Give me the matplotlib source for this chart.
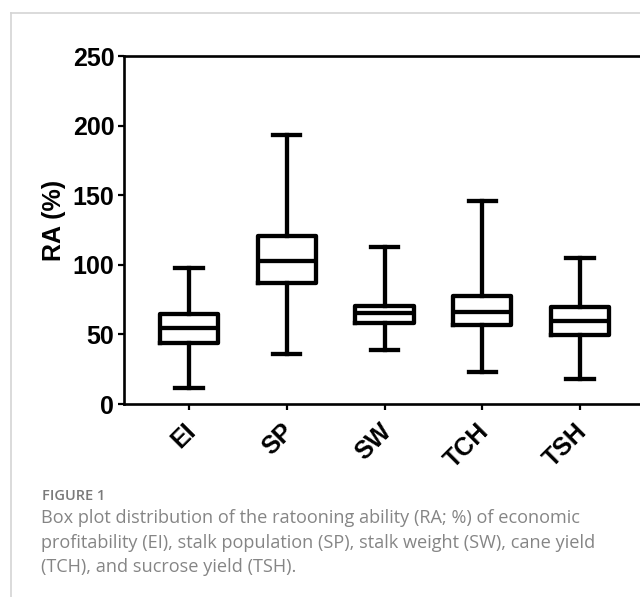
import matplotlib
matplotlib.use("Agg")
import matplotlib.pyplot as plt
from matplotlib.lines import Line2D
from matplotlib.transforms import ScaledTranslation

# values (RA, %)
traits = ["EI", "SP", "SW", "TCH", "TSH"]
ra_min = [11.5, 36, 38.5, 23, 18]
ra_q1 = [44, 87, 58, 56.5, 49.5]
ra_med = [54.5, 103, 65.5, 66, 59.5]
ra_q3 = [64.5, 120.5, 70.5, 77.5, 69.5]
ra_max = [98, 193, 113, 146, 105]
yticks = [0, 50, 100, 150, 200, 250]

caption_lines = [
    "Box plot distribution of the ratooning ability (RA; %) of economic",
    "profitability (EI), stalk population (SP), stalk weight (SW), cane yield",
    "(TCH), and sucrose yield (TSH).",
]

plt.rcParams['font.family'] = ['Liberation Sans', 'DejaVu Sans']

fig = plt.figure(figsize=(6.4, 5.97), dpi=100)
ax = fig.add_axes([124 / 640, 193 / 597, 521 / 640, 348 / 597])

stats = []
for i, t in enumerate(traits):
    stats.append(dict(label=t, whislo=ra_min[i], q1=ra_q1[i], med=ra_med[i],
                      q3=ra_q3[i], whishi=ra_max[i], fliers=[]))

lw = 3.1
ax.bxp(stats, positions=range(1, len(traits) + 1), widths=0.6, capwidths=0.28,
       showfliers=False,
       boxprops=dict(color='black', linewidth=lw),
       whiskerprops=dict(color='black', linewidth=lw),
       capprops=dict(color='black', linewidth=lw),
       medianprops=dict(color='black', linewidth=lw))

ax.set_xlim(0.333, 5.667)
ax.set_ylim(0, 250)
ax.set_yticks(yticks)
ax.set_xticks(range(1, len(traits) + 1))
ax.set_xticklabels(traits, rotation=45, ha='right', va='top', rotation_mode='anchor')

for s in ax.spines.values():
    s.set_linewidth(1.9)
ax.tick_params(axis='both', width=1.6, length=4, labelsize=18)
ax.tick_params(axis='y', pad=3)
ax.tick_params(axis='x', pad=7)
for lab in ax.get_yticklabels():
    lab.set_fontweight('bold')
shift = ScaledTranslation(-4 / 72, 0, fig.dpi_scale_trans)
for lab in ax.get_xticklabels():
    lab.set_fontweight('bold')
    lab.set_transform(lab.get_transform() + shift)

fig.text(54 / 640, 1 - 220 / 597, "RA (%)", rotation=90, ha='center', va='center',
         fontsize=18, fontweight='bold')

# page frame lines
fig.add_artist(Line2D([11 / 640, 1], [1 - 13 / 597] * 2, color='#d4d4d4', lw=1.2))
fig.add_artist(Line2D([11 / 640] * 2, [0, 1 - 13 / 597], color='#d4d4d4', lw=1.2))

cap_font = ['Open Sans', 'DejaVu Sans']
fig.text(42 / 640, 1 - 496 / 597, "FIGURE 1", ha='left', va='center',
         fontsize=10.5, color='#7a7a7a', family=cap_font, fontweight='semibold')
for j, line in enumerate(caption_lines):
    fig.text(41 / 640, 1 - (518 + 24.5 * j) / 597, line, ha='left', va='center',
             fontsize=13.1, color='#858585', family=cap_font)

fig.savefig("out.png", dpi=100)
